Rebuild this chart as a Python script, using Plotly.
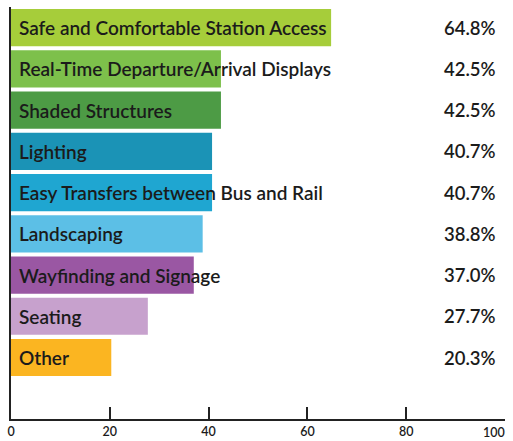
import plotly.graph_objects as go

categories = [
    "Safe and Comfortable Station Access",
    "Real-Time Departure/Arrival Displays",
    "Shaded Structures",
    "Lighting",
    "Easy Transfers between Bus and Rail",
    "Landscaping",
    "Wayfinding and Signage",
    "Seating",
    "Other",
]
values = [64.8, 42.5, 42.5, 40.7, 40.7, 38.8, 37.0, 27.7, 20.3]
value_labels = ["64.8%", "42.5%", "42.5%", "40.7%", "40.7%", "38.8%", "37.0%", "27.7%", "20.3%"]
colors = ["#a6cd3a", "#7dc04b", "#4d9b45", "#1b93b6", "#1fa6d1", "#5cbfe6", "#9a57a3", "#c7a1cd", "#fbb521"]
tick_values = [0, 20, 40, 60, 80, 100]
tick_labels = ["0", "20", "40", "60", "80", "100"]

FONT = "Lato"
TEXT_COLOR = "#1b1b1b"
TICK_FONT = dict(family=FONT, size=12.5, color=TEXT_COLOR, weight=600)

fig = go.Figure()
fig.add_trace(go.Bar(
    x=values,
    y=list(range(len(categories))),
    orientation="h",
    marker=dict(color=colors, line=dict(width=0)),
    width=0.9,
    hoverinfo="skip",
))

annotations = []
for i, (cat, lab) in enumerate(zip(categories, value_labels)):
    annotations.append(dict(
        x=0, y=i, xref="x", yref="y", text=cat, showarrow=False,
        xanchor="left", yanchor="middle", xshift=6,
        font=dict(family=FONT, size=19, color=TEXT_COLOR, weight=600),
    ))
    annotations.append(dict(
        x=0.986, y=i, xref="paper", yref="y", text=lab, showarrow=False,
        xanchor="right", yanchor="middle",
        font=dict(family=FONT, size=18.5, color=TEXT_COLOR, weight=600),
    ))

# last tick label kept inside the page (right-aligned to its tick)
annotations.append(dict(
    x=tick_values[-1], y=0, xref="x", yref="paper", text=tick_labels[-1],
    showarrow=False, xanchor="right", yanchor="top", yshift=-4, xshift=2,
    font=TICK_FONT,
))

fig.update_layout(
    width=513, height=441,
    margin=dict(l=11, r=8, t=7, b=22, autoexpand=False),
    paper_bgcolor="white", plot_bgcolor="white",
    showlegend=False,
    annotations=annotations,
    xaxis=dict(
        range=[0, 100], tickvals=tick_values,
        ticktext=tick_labels[:-1] + [""],
        ticks="inside", ticklen=12,
        tickwidth=1.5, tickcolor="#222", showline=True, linecolor="#222",
        linewidth=1.5, showgrid=False, zeroline=False, automargin=False,
        ticklabeloverflow="allow", ticklabelstandoff=0,
        tickfont=TICK_FONT,
    ),
    yaxis=dict(
        range=[9.49, -0.5], showticklabels=False, ticks="", showline=True,
        linecolor="#222", linewidth=1.5, showgrid=False, zeroline=False,
        automargin=False,
    ),
)

fig.write_html(
    "out.html",
    config={"displayModeBar": False},
    post_script="document.body.style.margin='0';document.body.style.overflow='hidden';",
)
